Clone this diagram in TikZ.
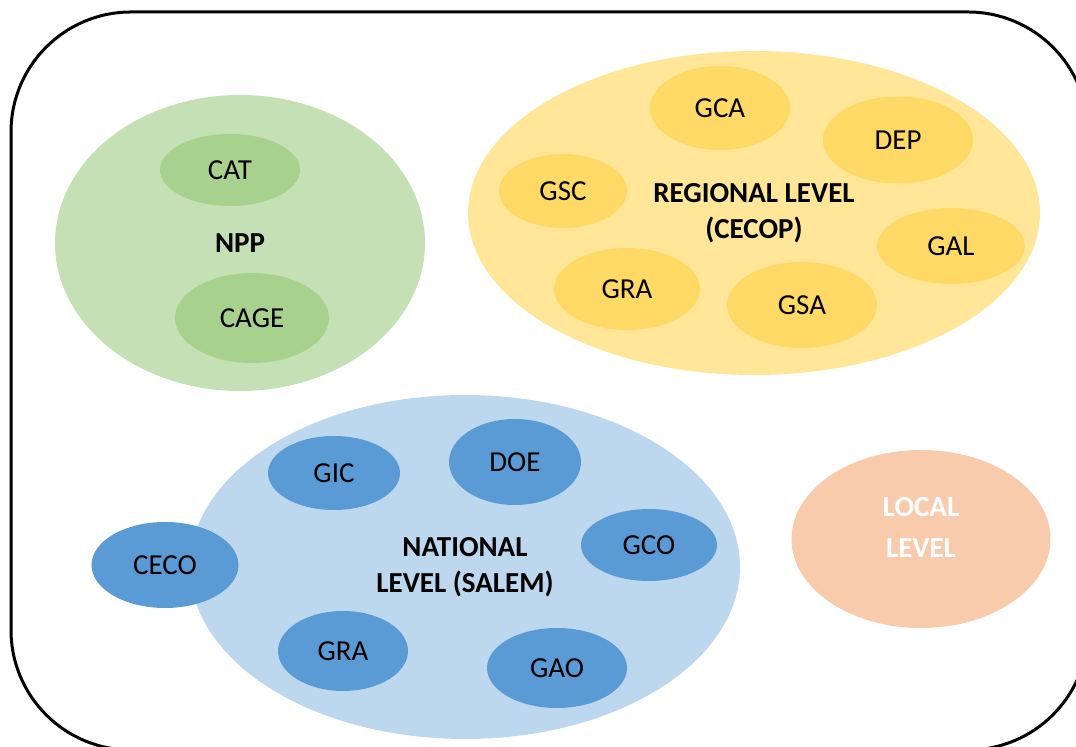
\documentclass[tikz,border=0pt]{standalone}
\usepackage{fontspec}
\setmainfont{Carlito}
\usetikzlibrary{shapes.geometric}
\definecolor{nppouter}{HTML}{C5E0B4}
\definecolor{nppinner}{HTML}{A9D18E}
\definecolor{regouter}{HTML}{FFE699}
\definecolor{reginner}{HTML}{FFD966}
\definecolor{natouter}{HTML}{BDD7EE}
\definecolor{natinner}{HTML}{5B9BD5}
\definecolor{locfill}{HTML}{F8CBAD}
\tikzset{
  % sizes given in drawing units (1 unit = 0.5pt)
  blob/.style 2 args={ellipse, inner sep=0pt, minimum width=#1*0.5pt, minimum height=#2*0.5pt},
  outerg/.style={fill=nppouter, draw=none},
  innerg/.style={fill=nppinner, draw=none},
  outery/.style={fill=regouter, draw=none},
  innery/.style={fill=reginner, draw=none},
  outerb/.style={fill=natouter, draw=none},
  innerb/.style={fill=natinner, draw=none},
  lbl/.style={font=\fontsize{14.5}{18}\selectfont, text=black},
  title/.style={font=\fontsize{14.5}{18}\selectfont\bfseries, align=center, text=black},
}
\begin{document}
\begin{tikzpicture}[x=0.5pt, y=-0.5pt]
\useasboundingbox (0,0) rectangle (1076,747);
\clip (0,0) rectangle (1076,747);
% frame
\draw[line width=1.5pt, rounded corners=60pt] (11,12) rectangle (1088,750);

% NPP group
\node[blob={370}{296}, outerg, title] (npp) at (240,243) {NPP};
\node[blob={140}{72}, innerg, lbl] (cat) at (230,170) {CAT};
\node[blob={154}{90}, innerg, lbl] (cage) at (252,318) {CAGE};

% regional group
\node[blob={572}{324}, outery, title] (reg) at (754,213) {REGIONAL LEVEL\\(CECOP)};
\node[blob={140}{84}, innery, lbl] (gca) at (720,108) {GCA};
\node[blob={150}{87}, innery, lbl] (dep) at (898,140) {DEP};
\node[blob={128}{74}, innery, lbl] (gsc) at (563,191) {GSC};
\node[blob={148}{76}, innery, lbl] (gal) at (951,246) {GAL};
\node[blob={146}{82}, innery, lbl] (gra1) at (627,289) {GRA};
\node[blob={150}{86}, innery, lbl] (gsa) at (802,305) {GSA};

% national group
\node[blob={550}{344}, outerb, title] (nat) at (465,567) {NATIONAL\\LEVEL (SALEM)};
\node[blob={132}{74}, innerb, lbl] (gic) at (334,473) {GIC};
\node[blob={132}{86}, innerb, lbl] (doe) at (515,462) {DOE};
\node[blob={136}{72}, innerb, lbl] (gco) at (649,545) {GCO};
\node[blob={147}{86}, innerb, lbl] (ceco) at (165,565) {CECO};
\node[blob={130}{80}, innerb, lbl] (gra2) at (343,651) {GRA};
\node[blob={140}{80}, innerb, lbl] (gao) at (557,668) {GAO};

% local level
\node[blob={259}{178}, fill=locfill, draw=none] (loc) at (921,539) {};
\node[font=\fontsize{14.5}{20.5}\selectfont\bfseries, align=center, text=white] (loct) at (921,527) {LOCAL\\LEVEL};
\end{tikzpicture}
\end{document}
